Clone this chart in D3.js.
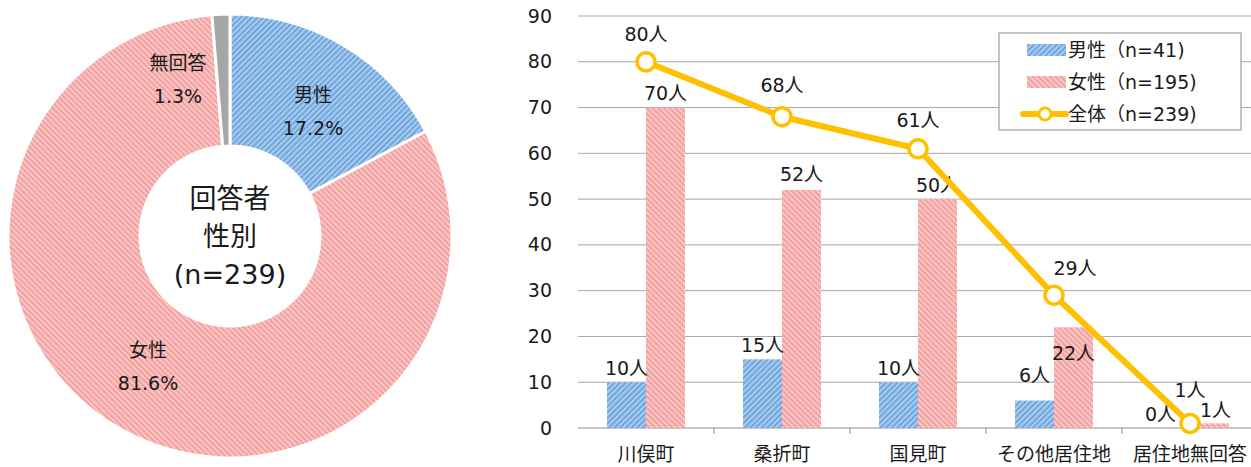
<!DOCTYPE html>
<html>
<head>
<meta charset="utf-8">
<script src="https://cdn.jsdelivr.net/npm/d3@7"></script>
<style>
  body { margin: 0; background: #fff; }
  svg text { font-family: Verdana, "DejaVu Sans", "Noto Sans CJK JP", sans-serif; fill: #1a1a1a; }
</style>
</head>
<body>
<svg id="chart" width="1251" height="467"></svg>
<script>
// pie data
const pieLabels = ["男性", "女性", "無回答"];
const piePercent = [17.2, 81.6, 1.3];
const holeLines = ["回答者", "性別", "(n=239)"];

// bar + line data
const places = ["川俣町", "桑折町", "国見町", "その他居住地", "居住地無回答"];
const male = [10, 15, 10, 6, 0];
const female = [70, 52, 50, 22, 1];
const total = [80, 68, 61, 29, 1];
const yTicks = [0, 10, 20, 30, 40, 50, 60, 70, 80, 90];
const legendNames = ["男性（n=41)", "女性（n=195)", "全体（n=239)"];

const svg = d3.select("#chart");
const defs = svg.append("defs");
const fs = 19;

function stripes(id, base, line, angle) {
  const p = defs.append("pattern")
    .attr("id", id)
    .attr("patternUnits", "userSpaceOnUse")
    .attr("width", 4).attr("height", 4)
    .attr("patternTransform", "rotate(" + angle + ")");
  p.append("rect").attr("width", 4).attr("height", 4).attr("fill", base);
  p.append("rect").attr("width", 2).attr("height", 4).attr("fill", line);
}
stripes("pMale", "#a9cbee", "#6ea6dd", 45);
stripes("pFemale", "#f9c6c6", "#f3a0a0", -45);

const fills = ["url(#pMale)", "url(#pFemale)", "#a6a6a6"];

// ---------- donut ----------
const cx = 230, cy = 236, rOut = 222, rIn = 90;
const pieG = svg.append("g").attr("transform", "translate(" + cx + "," + cy + ")");
const pie = d3.pie().sort(null).value(d => d);
const arc = d3.arc().innerRadius(rIn).outerRadius(rOut);
const arcs = pie(piePercent);

pieG.selectAll("path")
  .data(arcs)
  .enter()
  .append("path")
    .attr("d", arc)
    .attr("fill", (d, i) => fills[i])
    .attr("stroke", "#fff")
    .attr("stroke-width", 3);

// label positions as [x, y] of first line, relative to the pie centre
const pieLabelPos = [[83, -141], [-82, 114], [-52, -173]];
arcs.forEach((d, i) => {
  const g = pieG.append("g").attr("transform", "translate(" + pieLabelPos[i][0] + "," + pieLabelPos[i][1] + ")");
  g.append("text").attr("text-anchor", "middle").attr("font-size", fs)
    .attr("dy", "0.35em").text(pieLabels[i]);
  g.append("text").attr("text-anchor", "middle").attr("font-size", fs)
    .attr("y", 33).attr("dy", "0.35em").text(piePercent[i].toFixed(1) + "%");
});

holeLines.forEach((t, i) => {
  pieG.append("text")
    .attr("text-anchor", "middle")
    .attr("font-size", 27)
    .attr("y", -37 + i * 38)
    .attr("dy", "0.35em")
    .text(t);
});

// ---------- bar + line ----------
const x0 = 578, x1 = 1258, yTop = 16, yBot = 428;

const x = d3.scaleBand().domain(places).range([x0, x1]);
const y = d3.scaleLinear().domain([0, 90]).range([yBot, yTop]);
const barW = 39;

const chart = svg.append("g");

chart.selectAll("line.grid")
  .data(yTicks)
  .enter()
  .append("line")
    .attr("class", "grid")
    .attr("x1", x0).attr("x2", x1)
    .attr("y1", d => y(d)).attr("y2", d => y(d))
    .attr("stroke", d => d === 0 ? "#8c8c8c" : "#a6a6a6")
    .attr("stroke-width", 1);

const yAxis = d3.axisLeft(y).tickValues(yTicks).tickSize(0).tickPadding(26);
const yG = chart.append("g").attr("transform", "translate(" + x0 + ",0)").call(yAxis);
yG.select(".domain").remove();
yG.selectAll("text").attr("font-size", fs).attr("fill", "#1a1a1a")
  .style("font-family", "Verdana, 'DejaVu Sans', sans-serif");

// category ticks between bands
chart.selectAll("line.ctick")
  .data(places.slice(1))
  .enter()
  .append("line")
    .attr("x1", d => x(d)).attr("x2", d => x(d))
    .attr("y1", yBot).attr("y2", yBot + 6)
    .attr("stroke", "#8c8c8c");

chart.selectAll("text.cat")
  .data(places)
  .enter()
  .append("text")
    .attr("class", "cat")
    .attr("text-anchor", "middle")
    .attr("font-size", fs)
    .attr("x", d => x(d) + x.bandwidth() / 2)
    .attr("y", 454)
    .attr("dy", "0.35em")
    .text(d => d);

const mid = d => x(d) + x.bandwidth() / 2;

chart.selectAll("rect.male")
  .data(places)
  .enter()
  .append("rect")
    .attr("class", "male")
    .attr("x", d => mid(d) - barW)
    .attr("width", barW)
    .attr("y", (d, i) => y(male[i]))
    .attr("height", (d, i) => yBot - y(male[i]))
    .attr("fill", "url(#pMale)");

chart.selectAll("rect.female")
  .data(places)
  .enter()
  .append("rect")
    .attr("class", "female")
    .attr("x", d => mid(d))
    .attr("width", barW)
    .attr("y", (d, i) => y(female[i]))
    .attr("height", (d, i) => yBot - y(female[i]))
    .attr("fill", "url(#pFemale)");

// label nudges [dx, dy] from the default spot above each mark
const maleNudge = [[0, 0], [0, 0], [0, 0], [0, -11], [-10, 0]];
const femaleNudge = [[0, 0], [0, -2], [0, 0], [0, 40], [6, 1]];
const totalNudge = [[0, 0], [0, -4], [0, -1], [21, 0], [0, -6]];

chart.selectAll("text.mlab")
  .data(places)
  .enter()
  .append("text")
    .attr("text-anchor", "middle").attr("font-size", fs)
    .attr("x", (d, i) => mid(d) - barW / 2 + maleNudge[i][0])
    .attr("y", (d, i) => y(male[i]) - 14 + maleNudge[i][1])
    .attr("dy", "0.35em")
    .text((d, i) => male[i] + "人");

chart.selectAll("text.flab")
  .data(places)
  .enter()
  .append("text")
    .attr("text-anchor", "middle").attr("font-size", fs)
    .attr("x", (d, i) => mid(d) + barW / 2 + femaleNudge[i][0])
    .attr("y", (d, i) => y(female[i]) - 14 + femaleNudge[i][1])
    .attr("dy", "0.35em")
    .text((d, i) => female[i] + "人");

const line = d3.line().x((d, i) => mid(places[i])).y(d => y(d));
chart.append("path")
  .datum(total)
  .attr("d", line)
  .attr("fill", "none")
  .attr("stroke", "#ffc000")
  .attr("stroke-width", 6)
  .attr("stroke-linejoin", "round");

chart.selectAll("circle.tot")
  .data(total)
  .enter()
  .append("circle")
    .attr("cx", (d, i) => mid(places[i]))
    .attr("cy", d => y(d))
    .attr("r", 9)
    .attr("fill", "#fff")
    .attr("stroke", "#ffc000")
    .attr("stroke-width", 3.5);

chart.selectAll("text.tlab")
  .data(total)
  .enter()
  .append("text")
    .attr("text-anchor", "middle").attr("font-size", fs)
    .attr("x", (d, i) => mid(places[i]) + totalNudge[i][0])
    .attr("y", (d, i) => y(d) - 27 + totalNudge[i][1])
    .attr("dy", "0.35em")
    .text(d => d + "人");

// legend
const lg = svg.append("g").attr("transform", "translate(999,33)");
lg.append("rect").attr("width", 242).attr("height", 97)
  .attr("fill", "#fff").attr("stroke", "#8c8c8c").attr("stroke-width", 1);
legendNames.forEach((t, i) => {
  const ly = 17 + i * 32;
  if (i < 2) {
    lg.append("rect").attr("x", 28).attr("y", ly - 6).attr("width", 39).attr("height", 12)
      .attr("fill", fills[i]);
  } else {
    lg.append("line").attr("x1", 24).attr("x2", 67).attr("y1", ly).attr("y2", ly)
      .attr("stroke", "#ffc000").attr("stroke-width", 6).attr("stroke-linecap", "round");
    lg.append("circle").attr("cx", 46).attr("cy", ly).attr("r", 6)
      .attr("fill", "#fff").attr("stroke", "#ffc000").attr("stroke-width", 3);
  }
  lg.append("text").attr("x", 69).attr("y", ly).attr("dy", "0.35em")
    .attr("font-size", fs).text(t);
});
</script>
</body>
</html>
